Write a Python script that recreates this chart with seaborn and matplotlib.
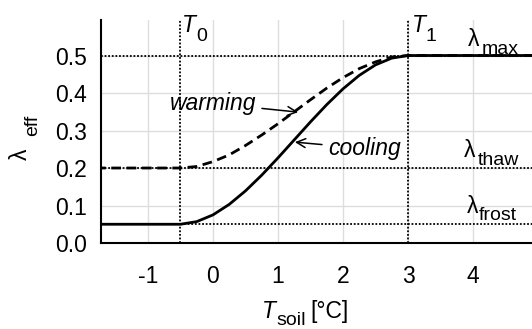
import matplotlib
matplotlib.use("Agg")
import matplotlib.pyplot as plt
import seaborn as sns
import pandas as pd

# ---- data ----
t_soil = [-1.8, -0.5, -0.25, 0.0, 0.25, 0.5, 0.75, 1.0, 1.25, 1.5, 1.75,
          2.0, 2.25, 2.5, 2.75, 3.0, 5.0]
lam_cooling = [0.050, 0.050, 0.057, 0.075, 0.103, 0.139, 0.181, 0.227, 0.275,
               0.323, 0.369, 0.411, 0.447, 0.475, 0.493, 0.500, 0.500]
lam_warming = [0.200, 0.200, 0.204, 0.217, 0.235, 0.260, 0.288, 0.318, 0.350,
               0.382, 0.413, 0.441, 0.465, 0.483, 0.496, 0.500, 0.500]
x_ticks = [-1, 0, 1, 2, 3, 4]
y_ticks = [0.0, 0.1, 0.2, 0.3, 0.4, 0.5]
T0, T1 = -0.5, 3.0
lam_max, lam_thaw, lam_frost = 0.5, 0.2, 0.05

df = pd.DataFrame({"T": t_soil * 2,
                   "lam": lam_warming + lam_cooling,
                   "mode": ["warming"] * len(t_soil) + ["cooling"] * len(t_soil)})

sns.set_style("white")
FONT = "Liberation Sans"
plt.rcParams["font.family"] = [FONT, "DejaVu Sans"]
plt.rcParams["axes.unicode_minus"] = False
for key in ("text.color", "xtick.color", "ytick.color", "axes.labelcolor",
            "xtick.labelcolor", "ytick.labelcolor"):
    plt.rcParams[key] = "black"
FS = 16.5
FS_SUB = 14

fig = plt.figure(figsize=(5.32, 3.29), dpi=100)
ax = fig.add_axes([101 / 532, (329 - 243) / 329, 1 - 101 / 532, (243 - 20) / 329])
ax.set_xlim(-1.723, 4.908)
ax.set_ylim(0, 0.5947)

# grid
for xt in x_ticks:
    ax.axvline(xt, color="#dddddd", lw=1.0, zorder=0)
for yt in y_ticks[1:]:
    ax.axhline(yt, color="#dddddd", lw=1.0, zorder=0)

# reference dotted lines
for yv in (lam_max, lam_thaw, lam_frost):
    ax.axhline(yv, color="black", lw=1.3, ls=(0, (1, 1)), zorder=1)
for xv in (T0, T1):
    ax.axvline(xv, color="black", lw=1.3, ls=(0, (1, 1)), zorder=1)

sns.lineplot(data=df[df["mode"] == "warming"], x="T", y="lam", ax=ax,
             color="black", lw=2.0, zorder=2,
             estimator=None, sort=False).lines[-1].set_dashes((3.5, 2))
sns.lineplot(data=df[df["mode"] == "cooling"], x="T", y="lam", ax=ax,
             color="black", lw=2.0, zorder=3, estimator=None, sort=False)

ax.set_xticks(x_ticks)
ax.set_xticklabels([str(v) for v in x_ticks])
ax.set_yticks(y_ticks)
ax.set_yticklabels([f"{v:.1f}" for v in y_ticks])
ax.tick_params(axis="x", length=0, pad=16, labelsize=FS, labelcolor="black")
ax.tick_params(axis="y", length=0, pad=10, labelsize=FS, labelcolor="black")
ax.set_xlabel("")
ax.set_ylabel("")
for s in ("top", "right"):
    ax.spines[s].set_visible(False)
for s in ("left", "bottom"):
    ax.spines[s].set_color("black")
    ax.spines[s].set_linewidth(1.5)


def sublabel(x, y, main, sub, dx_px, dy_px, italic=False):
    ax.text(x, y, main, fontsize=FS, ha="left", va="baseline", color="black",
            style="italic" if italic else "normal", clip_on=False)
    ax.annotate(sub, xy=(x, y), xycoords="data", color="black",
                xytext=(dx_px * 0.72, -dy_px * 0.72), textcoords="offset points",
                fontsize=FS_SUB, ha="left", va="baseline", annotation_clip=False)


sublabel(-0.48, 0.563, "T", "0", 14, 9, italic=True)
sublabel(3.06, 0.563, "T", "1", 14, 9, italic=True)
sublabel(3.92, 0.525, "λ", "max", 14, 8)
sublabel(3.86, 0.229, "λ", "thaw", 14, 8)
sublabel(3.91, 0.080, "λ", "frost", 12, 7)

ax.annotate("warming", xy=(1.31, 0.349), xytext=(0.66, 0.355), color="black",
            fontsize=FS, style="italic", ha="right", va="baseline",
            arrowprops=dict(arrowstyle="->", color="black", lw=1.1,
                            mutation_scale=16, shrinkA=2, shrinkB=0))
ax.annotate("cooling", xy=(1.26, 0.269), xytext=(1.77, 0.235), color="black",
            fontsize=FS, style="italic", ha="left", va="baseline",
            arrowprops=dict(arrowstyle="->", color="black", lw=1.1,
                            mutation_scale=16, shrinkA=2, shrinkB=0))

# x label
fig.text(262 / 532, (329 - 318) / 329, "T", fontsize=FS, style="italic",
         ha="left", va="baseline", color="black")
fig.text(276 / 532, (329 - 325) / 329, "soil", fontsize=FS_SUB, ha="left",
         va="baseline", color="black")
fig.text(310 / 532, (329 - 318) / 329, "[°C]", fontsize=FS, ha="left",
         va="baseline", color="black")

# y label (rotated)
fig.text(27 / 532, (329 - 160) / 329, "λ", fontsize=FS, rotation=90, color="black",
         rotation_mode="anchor", ha="left", va="baseline")
fig.text(37 / 532, (329 - 136) / 329, "eff", fontsize=FS_SUB, rotation=90, color="black",
         rotation_mode="anchor", ha="left", va="baseline")

fig.savefig("out.png", dpi=100)
